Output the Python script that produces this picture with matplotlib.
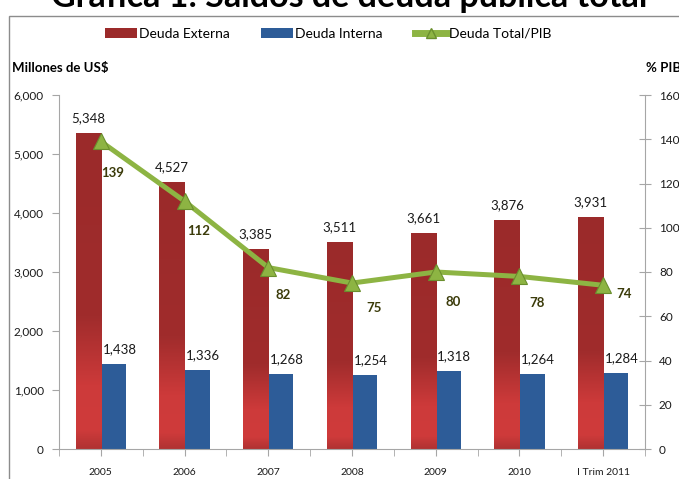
import matplotlib
matplotlib.use("Agg")
import matplotlib.pyplot as plt
import numpy as np
from matplotlib.colors import LinearSegmentedColormap
from matplotlib.lines import Line2D
from matplotlib.patches import Patch, Rectangle

plt.rcParams['font.family'] = ['Lato', 'DejaVu Sans']

# --- data ---
years = ['2005', '2006', '2007', '2008', '2009', '2010', 'I Trim 2011']
deuda_externa = [5348, 4527, 3385, 3511, 3661, 3876, 3931]
deuda_interna = [1438, 1336, 1268, 1254, 1318, 1264, 1284]
deuda_pib = [139, 112, 82, 75, 80, 78, 74]

red = '#9B2A2A'
blue = '#2D5C98'
green = '#8DB443'
green_dark = '#6A8F2E'
label_olive = '#3B3B0A'
axis_gray = '#A6A6A6'

fig = plt.figure(figsize=(6.79, 4.79), dpi=100)
ax = fig.add_axes([59 / 679, 1 - 449 / 479, (645 - 59) / 679, (449 - 95) / 479])

x = np.arange(len(years))
w = 0.3
bars_ext = ax.bar(x - w / 2, deuda_externa, w, color=red, zorder=2)
bars_int = ax.bar(x + w / 2, deuda_interna, w, color=blue, zorder=2)

# gradient on the red bars (lighter near the bottom)
red_cmap = LinearSegmentedColormap.from_list(
    'red_grad', [(0, '#B03232'), (0.06, '#CF3B3B'), (0.2, '#CD3A3A'),
                 (0.42, '#A02C2C'), (1, '#9B2A2A')])
grad = np.linspace(0, 1, 256).reshape(-1, 1)
for b in bars_ext:
    bx, by, bw, bh = b.get_x(), b.get_y(), b.get_width(), b.get_height()
    im = ax.imshow(grad, extent=[bx, bx + bw, by, by + bh], origin='lower',
                   cmap=red_cmap, aspect='auto', zorder=2.1)
    im.set_clip_path(b)
ax.set_xlim(-0.5, len(years) - 0.5)
ax.set_ylim(0, 6000)

# bar value labels
for b, v in zip(bars_ext, deuda_externa):
    ax.annotate(f'{v:,}', (b.get_x() + b.get_width() / 2, v), xytext=(0, 15),
                textcoords='offset pixels', ha='center', va='center',
                fontsize=9.5, color='#1A1A1A')
for b, v in zip(bars_int, deuda_interna):
    ax.annotate(f'{v:,}', (b.get_x() + b.get_width() / 2, v), xytext=(6, 15),
                textcoords='offset pixels', ha='center', va='center',
                fontsize=9.5, color='#1A1A1A')

ax.set_yticks(np.arange(0, 6001, 1000))
ax.set_yticklabels([f'{int(t):,}' for t in np.arange(0, 6001, 1000)])
ax.set_xticks(x)
ax.set_xticklabels(years)
ax.set_xticks(np.arange(-0.5, len(years), 1), minor=True)
ax.tick_params(axis='y', direction='out', length=5, color=axis_gray,
               labelsize=8.5, labelcolor='#1A1A1A', pad=6)
ax.tick_params(axis='x', which='both', direction='out', length=5, color=axis_gray,
               labelsize=7.5, labelcolor='#1A1A1A', pad=9)
for s in ['top', 'right']:
    ax.spines[s].set_visible(False)
for s in ['left', 'bottom']:
    ax.spines[s].set_color(axis_gray)

# secondary axis: deuda / PIB
ax2 = ax.twinx()
ax2.set_ylim(0, 160)
ax2.set_yticks(np.arange(0, 161, 20))
ax2.plot(x, deuda_pib, color=green, lw=3.6, marker='^', markersize=12,
         markerfacecolor=green, markeredgecolor=green_dark, markeredgewidth=0.8,
         zorder=3, solid_capstyle='butt')
offsets = [(12, -32), (14, -30), (15, -27), (22, -25), (17, -30), (18, -27), (21, -9)]
for xi, v, off in zip(x, deuda_pib, offsets):
    ax2.annotate(str(v), (xi, v), xytext=off, textcoords='offset pixels',
                 ha='center', va='center', fontsize=9.5, fontweight='bold',
                 color=label_olive)
ax2.tick_params(axis='y', direction='inout', length=8, color=axis_gray,
                labelsize=8.5, labelcolor='#1A1A1A', pad=6)
for s in ['top', 'left', 'bottom']:
    ax2.spines[s].set_visible(False)
ax2.spines['right'].set_color(axis_gray)

# axis titles
fig.text(12 / 679, 1 - 68 / 479, 'Millones de US$', fontsize=9.5, fontweight='bold',
         ha='left', va='center')
fig.text(646 / 679, 1 - 68 / 479, '% PIB', fontsize=9.5, fontweight='bold',
         ha='left', va='center')

# legend
handles = [Patch(facecolor=red, edgecolor='none'),
           Patch(facecolor=blue, edgecolor='none'),
           Line2D([0], [0], color=green, lw=5, marker='^', markersize=7,
                  markerfacecolor=green, markeredgecolor=green_dark)]
fig.legend(handles, ['Deuda Externa', 'Deuda Interna', 'Deuda Total/PIB'],
           loc='center', bbox_to_anchor=(0.483, 1 - 34 / 479), ncol=3,
           frameon=False, fontsize=10, handlelength=2.3, handleheight=0.7,
           handletextpad=0.15, columnspacing=2.3)

# chart border and title
fig.patches.append(Rectangle((9 / 679, -0.1), 1.2, 1.1 - 16 / 479,
                             transform=fig.transFigure, fill=False,
                             edgecolor='#8C8C8C', lw=1))
fig.text(0.514, 1 - 7 / 479, 'Gráfica 1: Saldos de deuda pública total',
         fontsize=24.5, fontweight='bold', ha='center', va='baseline')

fig.savefig('out.png', dpi=100)
